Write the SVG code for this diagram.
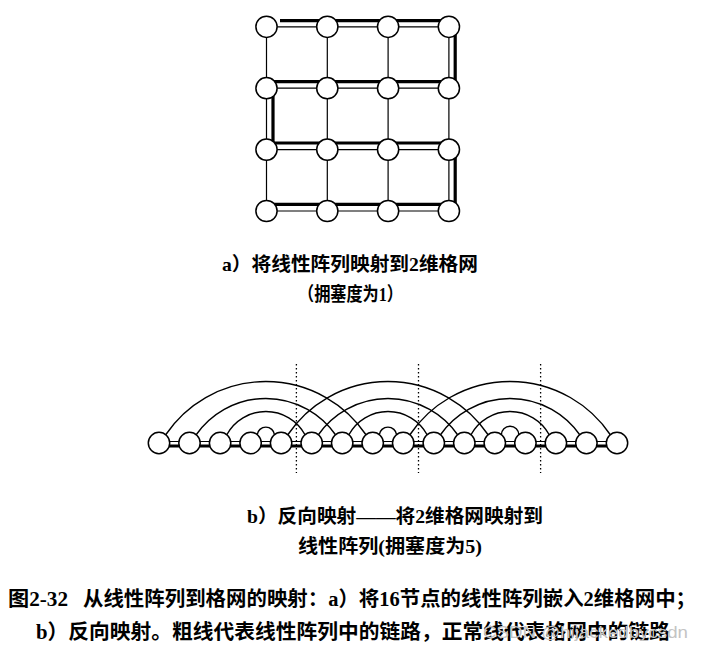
<svg xmlns="http://www.w3.org/2000/svg" width="703" height="649" viewBox="0 0 703 649">
<style>
.n{fill:#fff;stroke:#000;stroke-width:1.5}
.thin{stroke:#000;stroke-width:1.2;fill:none}
.thick{stroke:#000;stroke-width:3.2;fill:none}
.arc{stroke:#000;stroke-width:1.4;fill:none}
.dot{stroke:#000;stroke-width:1.3;stroke-dasharray:1.4 2.6;fill:none}
.t{font-family:"Liberation Serif","Noto Sans CJK SC",serif;font-weight:bold;fill:#000}
.wm{font-family:"Liberation Sans",sans-serif;fill:#c4c4c4}
</style>
<rect width="703" height="649" fill="#fff"/>
<g id="connectors">
  <path class="thin" d="M266.5 26.8H448.9M266.5 88.2H448.9M266.5 149.6H448.9M266.5 211H448.9M266.5 26.8V211M327.3 26.8V211M388.1 26.8V211M448.9 26.8V211"/>
  <path class="thick" d="M280 20.6H455.2V81.6H273V143H455.2V204.3H266.5"/>
  <path class="thin" d="M159 441.5H617"/>
  <path class="thick" d="M159 446H617"/>
  <path class="arc" d="M165.5 435A120.9 120.9 0 0 1 366.2 435"/>
  <path class="arc" d="M196 435A85 85 0 0 1 335.7 435"/>
  <path class="arc" d="M226.6 435A44.6 44.6 0 0 1 305.2 435"/>
  <path class="arc" d="M257.1 435A8.8 8.8 0 0 1 274.6 435"/>
  <path class="arc" d="M287.6 435A120.9 120.9 0 0 1 488.3 435"/>
  <path class="arc" d="M318.2 435A85 85 0 0 1 457.8 435"/>
  <path class="arc" d="M348.7 435A44.6 44.6 0 0 1 427.3 435"/>
  <path class="arc" d="M379.2 435A8.8 8.8 0 0 1 396.7 435"/>
  <path class="arc" d="M409.7 435A120.9 120.9 0 0 1 610.5 435"/>
  <path class="arc" d="M440.3 435A85 85 0 0 1 579.9 435"/>
  <path class="arc" d="M470.8 435A44.6 44.6 0 0 1 549.4 435"/>
  <path class="arc" d="M501.3 435A8.8 8.8 0 0 1 518.9 435"/>
  <path class="dot" d="M296.4 364V473M418.5 364V473M540.6 364V473"/>
</g>
<g id="grid-nodes">
  <g id="g00"><circle class="n" cx="266.5" cy="26.8" r="10.6"/></g>
  <g id="g01"><circle class="n" cx="327.3" cy="26.8" r="10.6"/></g>
  <g id="g02"><circle class="n" cx="388.1" cy="26.8" r="10.6"/></g>
  <g id="g03"><circle class="n" cx="448.9" cy="26.8" r="10.6"/></g>
  <g id="g10"><circle class="n" cx="266.5" cy="88.2" r="10.6"/></g>
  <g id="g11"><circle class="n" cx="327.3" cy="88.2" r="10.6"/></g>
  <g id="g12"><circle class="n" cx="388.1" cy="88.2" r="10.6"/></g>
  <g id="g13"><circle class="n" cx="448.9" cy="88.2" r="10.6"/></g>
  <g id="g20"><circle class="n" cx="266.5" cy="149.6" r="10.6"/></g>
  <g id="g21"><circle class="n" cx="327.3" cy="149.6" r="10.6"/></g>
  <g id="g22"><circle class="n" cx="388.1" cy="149.6" r="10.6"/></g>
  <g id="g23"><circle class="n" cx="448.9" cy="149.6" r="10.6"/></g>
  <g id="g30"><circle class="n" cx="266.5" cy="211" r="10.6"/></g>
  <g id="g31"><circle class="n" cx="327.3" cy="211" r="10.6"/></g>
  <g id="g32"><circle class="n" cx="388.1" cy="211" r="10.6"/></g>
  <g id="g33"><circle class="n" cx="448.9" cy="211" r="10.6"/></g>
</g>
<g id="linear-nodes">
  <g id="l0"><circle class="n" cx="159" cy="443" r="10.7"/></g>
  <g id="l1"><circle class="n" cx="189.5" cy="443" r="10.7"/></g>
  <g id="l2"><circle class="n" cx="220.1" cy="443" r="10.7"/></g>
  <g id="l3"><circle class="n" cx="250.6" cy="443" r="10.7"/></g>
  <g id="l4"><circle class="n" cx="281.1" cy="443" r="10.7"/></g>
  <g id="l5"><circle class="n" cx="311.7" cy="443" r="10.7"/></g>
  <g id="l6"><circle class="n" cx="342.2" cy="443" r="10.7"/></g>
  <g id="l7"><circle class="n" cx="372.7" cy="443" r="10.7"/></g>
  <g id="l8"><circle class="n" cx="403.2" cy="443" r="10.7"/></g>
  <g id="l9"><circle class="n" cx="433.8" cy="443" r="10.7"/></g>
  <g id="l10"><circle class="n" cx="464.3" cy="443" r="10.7"/></g>
  <g id="l11"><circle class="n" cx="494.8" cy="443" r="10.7"/></g>
  <g id="l12"><circle class="n" cx="525.4" cy="443" r="10.7"/></g>
  <g id="l13"><circle class="n" cx="555.9" cy="443" r="10.7"/></g>
  <g id="l14"><circle class="n" cx="586.4" cy="443" r="10.7"/></g>
  <g id="l15"><circle class="n" cx="617" cy="443" r="10.7"/></g>
</g>
<g id="labels">
  <text class="t" x="222" y="271" font-size="19" textLength="256" lengthAdjust="spacingAndGlyphs">a）将线性阵列映射到2维格网</text>
  <text class="t" x="298" y="301" font-size="19" textLength="105" lengthAdjust="spacingAndGlyphs">（拥塞度为1）</text>
  <text class="t" x="247" y="523" font-size="19" textLength="296" lengthAdjust="spacingAndGlyphs">b）反向映射——将2维格网映射到</text>
  <text class="t" x="298" y="553" font-size="19" textLength="184" lengthAdjust="spacingAndGlyphs">线性阵列(拥塞度为5)</text>
  <text class="t" x="8" y="606" font-size="20.5" textLength="60" lengthAdjust="spacingAndGlyphs">图2-32</text>
  <text class="t" x="83" y="606" font-size="20.5" textLength="613" lengthAdjust="spacingAndGlyphs">从线性阵列到格网的映射：a）将16节点的线性阵列嵌入2维格网中；</text>
  <text class="t" x="36" y="639" font-size="20.5" textLength="634" lengthAdjust="spacingAndGlyphs">b）反向映射。粗线代表线性阵列中的链路，正常线代表格网中的链路</text>
  <text class="wm" x="483" y="638" font-size="17" textLength="205" lengthAdjust="spacingAndGlyphs">CSDN @hijackedbycsdn</text>
</g>
</svg>
